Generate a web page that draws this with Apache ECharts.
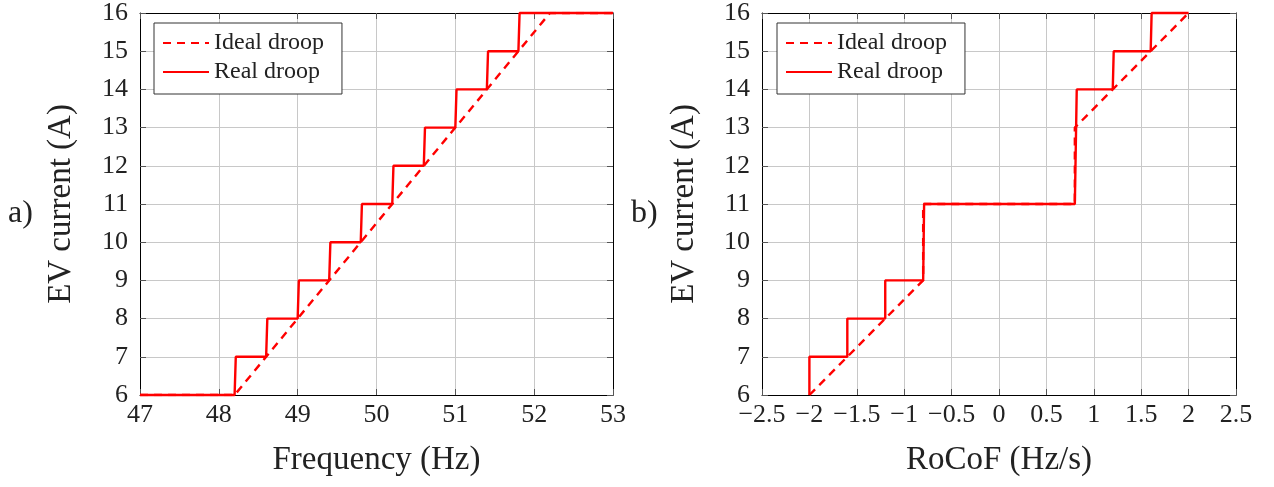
<!DOCTYPE html>
<html>
<head>
<meta charset="utf-8">
<script src="https://cdn.jsdelivr.net/npm/echarts@6/dist/echarts.min.js"></script>
<style>
  html, body { margin: 0; padding: 0; background: #fff; }
  #chart { width: 1274px; height: 487px; }
</style>
</head>
<body>
<div id="chart"></div>
<script>
// frequency droop (a)
var freqIdealX = [47, 48.2, 52.2, 53];
var freqIdealY = [6, 6, 16, 16];
var freqRealX = [47, 48.2, 48.215, 48.6, 48.615, 49.0, 49.015, 49.4, 49.415, 49.8, 49.815,
                 50.2, 50.215, 50.6, 50.615, 51.0, 51.015, 51.4, 51.415, 51.8, 51.815, 53];
var freqRealY = [6, 6, 7, 7, 8, 8, 9, 9, 10, 10, 11, 11, 12, 12, 13, 13, 14, 14, 15, 15, 16, 16];

// rocof droop (b)
var rocofIdealX = [-2, -0.8, -0.8, 0.8, 0.8, 2];
var rocofIdealY = [6, 9, 11, 11, 13, 16];
var rocofRealX = [-2, -2, -1.6, -1.6, -1.2, -1.2, -0.8, -0.79, 0.8, 0.82, 1.2, 1.21, 1.6, 1.61, 2];
var rocofRealY = [6, 7, 7, 8, 8, 9, 9, 11, 11, 14, 14, 15, 15, 16, 16];

var seriesNames = ['Ideal droop', 'Real droop'];
var panelLabels = ['a)', 'b)'];

function zip(xs, ys) {
  return xs.map(function (x, i) { return [x, ys[i]]; });
}

var font = 'Liberation Serif';
var textColor = '#222';

function mainX(grid, min, max, interval, name) {
  return {
    type: 'value', gridIndex: grid, min: min, max: max, interval: interval,
    name: name, nameLocation: 'middle', nameGap: 49,
    nameTextStyle: { fontFamily: font, fontSize: 33, color: textColor },
    axisLine: { show: true, onZero: false, lineStyle: { color: '#000', width: 1 } },
    axisTick: { show: true, inside: true, length: 6, lineStyle: { color: '#555' } },
    axisLabel: {
      fontFamily: font, fontSize: 26, color: textColor, margin: 7,
      formatter: function (v) { return String(v).replace('-', '\u2212'); }
    },
    splitLine: { show: true, lineStyle: { color: '#c8c8c8', width: 1 } }
  };
}
function mirrorX(grid, min, max, interval) {
  return {
    type: 'value', gridIndex: grid, min: min, max: max, interval: interval, position: 'top',
    axisLine: { show: true, onZero: false, lineStyle: { color: '#000', width: 1 } },
    axisTick: { show: true, inside: true, length: 6, lineStyle: { color: '#555' } },
    axisLabel: { show: false }, splitLine: { show: false }
  };
}
function mainY(grid, gap) {
  return {
    type: 'value', gridIndex: grid, min: 6, max: 16, interval: 1,
    name: 'EV current (A)', nameLocation: 'middle', nameGap: gap,
    nameTextStyle: { fontFamily: font, fontSize: 33, color: textColor },
    axisLine: { show: true, onZero: false, lineStyle: { color: '#000', width: 1 } },
    axisTick: { show: true, inside: true, length: 6, lineStyle: { color: '#555' } },
    axisLabel: { fontFamily: font, fontSize: 26, color: textColor, margin: 12 },
    splitLine: { show: true, lineStyle: { color: '#c8c8c8', width: 1 } }
  };
}
function mirrorY(grid) {
  return {
    type: 'value', gridIndex: grid, min: 6, max: 16, interval: 1, position: 'right',
    axisLine: { show: true, onZero: false, lineStyle: { color: '#000', width: 1 } },
    axisTick: { show: true, inside: true, length: 6, lineStyle: { color: '#555' } },
    axisLabel: { show: false }, splitLine: { show: false }
  };
}
function legendAt(left) {
  return {
    data: seriesNames, orient: 'vertical', left: left, top: 23,
    backgroundColor: '#fff', borderColor: '#333', borderWidth: 1,
    padding: [8, 18, 10, 8], itemGap: 5, itemWidth: 46, itemHeight: 14,
    selectedMode: false,
    itemStyle: { opacity: 0 },
    textStyle: { fontFamily: font, fontSize: 24, color: textColor }
  };
}
function lineSeries(name, data, xi, yi, dashed) {
  return {
    name: name, type: 'line', xAxisIndex: xi, yAxisIndex: yi, data: data,
    symbol: 'none', animation: false, clip: dashed, z: dashed ? 2 : 3,
    lineStyle: { color: '#ff0000', width: 2.4, type: dashed ? [8, 6] : 'solid' },
    itemStyle: { color: '#ff0000' }
  };
}

var chart = echarts.init(document.getElementById('chart'));
chart.setOption({
  animation: false,
  grid: [
    { left: 140, top: 11, width: 473, height: 384 },
    { left: 762, top: 11, width: 474, height: 384 }
  ],
  xAxis: [
    mainX(0, 47, 53, 1, 'Frequency (Hz)'),
    mainX(1, -2.5, 2.5, 0.5, 'RoCoF (Hz/s)'),
    mirrorX(0, 47, 53, 1),
    mirrorX(1, -2.5, 2.5, 0.5)
  ],
  yAxis: [mainY(0, 62), mainY(1, 61), mirrorY(0), mirrorY(1)],
  legend: [legendAt(154), legendAt(777)],
  graphic: [
    { type: 'text', left: 8, top: 198, style: { text: panelLabels[0], font: '32px "Liberation Serif"', fill: textColor } },
    { type: 'text', left: 631, top: 198, style: { text: panelLabels[1], font: '32px "Liberation Serif"', fill: textColor } }
  ],
  series: [
    lineSeries(seriesNames[0], zip(freqIdealX, freqIdealY), 0, 0, true),
    lineSeries(seriesNames[1], zip(freqRealX, freqRealY), 0, 0, false),
    lineSeries(seriesNames[0], zip(rocofIdealX, rocofIdealY), 1, 1, true),
    lineSeries(seriesNames[1], zip(rocofRealX, rocofRealY), 1, 1, false)
  ]
});
</script>
</body>
</html>
